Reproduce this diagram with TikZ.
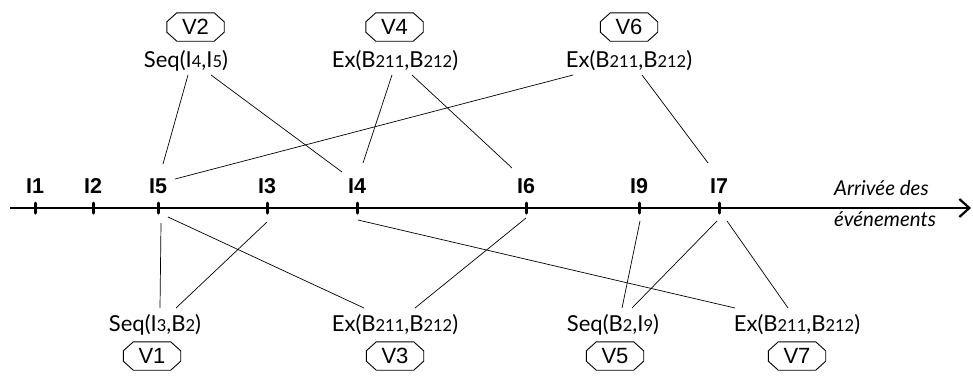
\documentclass[tikz,border=0pt]{standalone}
\usepackage{fontspec}
\setmainfont{Lato}
\newfontfamily\helv{Liberation Sans}
\usetikzlibrary{arrows.meta}
\newcommand{\lowsz}[1]{{\fontsize{16.5}{16.5}\selectfont\addfontfeatures{Numbers=Monospaced}#1}}
\tikzset{
  ilbl/.style={font=\helv\bfseries\fontsize{21.5}{22}\selectfont, inner sep=0pt, anchor=base},
  expr/.style={font=\fontsize{22}{24}\selectfont, inner sep=0pt, anchor=base},
  vbox/.style={rectangle, font=\helv\fontsize{22}{22}\selectfont, minimum width=57pt, minimum height=28pt, inner sep=0pt},
  octa/.style={line width=0.9pt, line join=miter},
  conn/.style={line width=0.7pt},
  tick/.style={line width=3pt, line cap=round},
  axisline/.style={line width=2.5pt, -{Straight Barb[length=10pt,width=18pt,line width=2.2pt]}},
  note/.style={font=\itshape\fontsize{20.5}{31}\selectfont, align=left, inner sep=0pt, anchor=base west}
}
\begin{document}
\begin{tikzpicture}[x=1pt,y=-1pt]
\useasboundingbox (0,0) rectangle (973,376);
% axis
\coordinate (a0) at (10,208);
\coordinate (a1) at (971,208);
\draw[axisline] (a0) -- (a1);
\foreach \n/\x in {1/35,2/93,5/158,3/267,4/357,6/526,9/639,7/719}{
  \coordinate (t\n) at (\x,208);
  \draw[tick] (\x,203) -- (\x,213);
  \node[ilbl] (I\n) at (\x,193) {I\n};
}
\node[note] (arr) at (834,226) {Arrivée des\\événements};
% top
\node[vbox] (V2) at (195.5,27) {V2};
\node[expr] (S2) at (186,67) {Seq(I\lowsz{4},I\lowsz{5})};
\node[vbox] (V4) at (394.5,27) {V4};
\node[expr] (S4) at (395,67) {Ex(B\lowsz{211},B\lowsz{212})};
\node[vbox] (V6) at (629,27) {V6};
\node[expr] (S6) at (629,67) {Ex(B\lowsz{211},B\lowsz{212})};
% bottom
\node[expr] (S1) at (155,331) {Seq(I\lowsz{3},B\lowsz{2})};
\node[vbox] (V1) at (152,356) {V1};
\node[expr] (S3) at (395,331) {Ex(B\lowsz{211},B\lowsz{212})};
\node[vbox] (V3) at (395,356) {V3};
\node[expr] (S5) at (613,331) {Seq(B\lowsz{2},I\lowsz{9})};
\node[vbox] (V5) at (615,356) {V5};
\node[expr] (S7) at (797,331) {Ex(B\lowsz{211},B\lowsz{212})};
\node[vbox] (V7) at (797,356) {V7};
% octagon outlines
\foreach \v in {V1,V2,V3,V4,V5,V6,V7}{
  \draw[octa] ([xshift=10pt]\v.north west) -- ([xshift=-10pt]\v.north east)
    -- ([yshift=-9pt]\v.north east) -- ([yshift=9pt]\v.south east)
    -- ([xshift=-10pt]\v.south east) -- ([xshift=10pt]\v.south west)
    -- ([yshift=9pt]\v.south west) -- ([yshift=-9pt]\v.north west) -- cycle;
}
% top connectors
\draw[conn] ([xshift=2pt,yshift=-8pt]S2.base) -- ([xshift=5pt,yshift=29pt]I5.base);
\draw[conn] ([xshift=25pt,yshift=-8pt]S2.base) -- ([xshift=-15pt,yshift=21pt]I4.base);
\draw[conn] ([xshift=-3pt,yshift=-8pt]S4.base) -- ([xshift=6pt,yshift=30pt]I4.base);
\draw[conn] ([xshift=17pt,yshift=-8pt]S4.base) -- ([xshift=-14pt,yshift=25pt]I6.base);
\draw[conn] ([xshift=-56pt,yshift=-8pt]S6.base) -- ([xshift=17pt,yshift=14pt]I5.base);
\draw[conn] ([xshift=13pt,yshift=-8pt]S6.base) -- ([xshift=-11pt,yshift=30pt]I7.base);
% bottom connectors
\draw[conn] ([xshift=3pt,yshift=-15pt]t5) -- ([xshift=5pt,yshift=23pt]S1.base);
\draw[conn] ([yshift=-14pt]t3) -- ([xshift=21pt,yshift=23pt]S1.base);
\draw[conn] ([xshift=10pt,yshift=-9pt]t5) -- ([xshift=-31pt,yshift=23pt]S3.base);
\draw[conn] ([yshift=-10pt]t6) -- ([xshift=20pt,yshift=23pt]S3.base);
\draw[conn] ([xshift=1pt,yshift=-12pt]t4) -- ([xshift=-62pt,yshift=23pt]S7.base);
\draw[conn] ([xshift=1pt,yshift=-13pt]t9) -- ([xshift=9pt,yshift=23pt]S5.base);
\draw[conn] ([xshift=-2pt,yshift=-13pt]t7) -- ([xshift=19pt,yshift=23pt]S5.base);
\draw[conn] ([xshift=8pt,yshift=-13pt]t7) -- ([xshift=-9pt,yshift=23pt]S7.base);
\end{tikzpicture}
\end{document}
